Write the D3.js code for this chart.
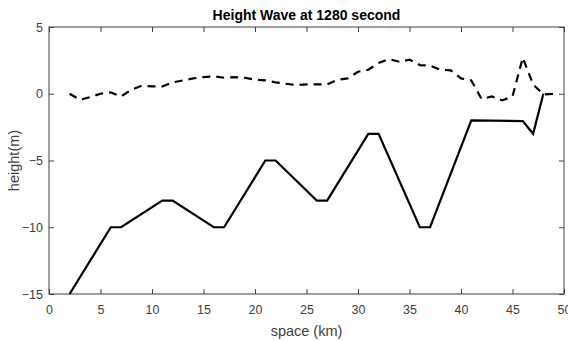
<!DOCTYPE html>
<html>
<head>
<meta charset="utf-8">
<script src="https://cdn.jsdelivr.net/npm/d3@7"></script>
<style>
  body { margin: 0; background: #fff; }
  svg { display: block; font-family: "Liberation Sans", Arial, sans-serif; }
  .tick text { fill: #404040; font-size: 12.5px; font-family: "Liberation Sans Narrow", "Arial Narrow", "Liberation Sans", sans-serif; }
  .tick line { stroke: #404040; }
</style>
</head>
<body>
<div id="chart"></div>
<script>
// bottom profile (solid) vertices
const bedKm = [2, 6, 7, 11, 12, 16, 17, 21, 22, 26, 27, 31, 32, 36, 37, 41, 46, 47, 48];
const bedH  = [-15, -10, -10, -8, -8, -10, -10, -5, -5, -8, -8, -3, -3, -10, -10, -2, -2.05, -3, 0];

// wave height (dashed), one per km
const waveKm = d3.range(2, 50);
const waveH = [0, -0.45, -0.25, 0, 0.1, -0.2, 0.3, 0.6, 0.55, 0.55,
               0.85, 1.0, 1.15, 1.25, 1.3, 1.2, 1.25, 1.2, 1.05, 1.0,
               0.85, 0.75, 0.65, 0.7, 0.7, 0.7, 1.05, 1.15, 1.65, 1.8,
               2.3, 2.6, 2.4, 2.55, 2.15, 2.1, 1.8, 1.75, 1.15, 1.0,
               -0.4, -0.2, -0.5, -0.2, 2.7, 0.7, -0.05, 0];

const xTicks = d3.range(0, 51, 5);
const yTicks = [-15, -10, -5, 0, 5];

const width = 568, height = 341;
const margin = {top: 27, right: 4, bottom: 47, left: 49};
const chartWidth = width - margin.left - margin.right,
      chartHeight = height - margin.top - margin.bottom;

const svg = d3.select('#chart').append('svg')
  .attr('width', width)
  .attr('height', height);

const x = d3.scaleLinear().domain([0, 50]).range([0, chartWidth]);
const y = d3.scaleLinear().domain([-15, 5]).range([chartHeight, 0]);

const chart = svg.append('g')
  .attr('transform', `translate(${margin.left}, ${margin.top})`);

// axes, matlab style: ticks pointing inward on all four sides
chart.append('g')
  .attr('transform', `translate(0, ${chartHeight})`)
  .call(d3.axisBottom(x).tickValues(xTicks).tickSize(-5).tickPadding(11))
  .call(g => g.select('.domain').remove());

chart.append('g')
  .call(d3.axisTop(x).tickValues(xTicks).tickSize(-5).tickFormat(''))
  .call(g => g.select('.domain').remove());

chart.append('g')
  .call(d3.axisLeft(y).tickValues(yTicks).tickSize(-5).tickPadding(6))
  .call(g => g.select('.domain').remove());

chart.append('g')
  .attr('transform', `translate(${chartWidth}, 0)`)
  .call(d3.axisRight(y).tickValues(yTicks).tickSize(-5).tickFormat(''))
  .call(g => g.select('.domain').remove());

chart.append('rect')
  .attr('width', chartWidth)
  .attr('height', chartHeight)
  .attr('fill', 'none')
  .attr('stroke', '#404040')
  .attr('stroke-width', 1);

const line = d3.line()
  .x(d => x(d[0]))
  .y(d => y(d[1]));

chart.append('path')
  .datum(waveKm.map((k, i) => [k, waveH[i]]))
  .attr('d', line)
  .attr('fill', 'none')
  .attr('stroke', '#000')
  .attr('stroke-width', 2.2)
  .attr('stroke-dasharray', '8,6');

chart.append('path')
  .datum(bedKm.map((k, i) => [k, bedH[i]]))
  .attr('d', line)
  .attr('fill', 'none')
  .attr('stroke', '#000')
  .attr('stroke-width', 2.2);

// labels
svg.append('text')
  .attr('x', margin.left + chartWidth / 2)
  .attr('y', 20)
  .attr('text-anchor', 'middle')
  .attr('font-size', 14)
  .attr('font-weight', 'bold')
  .attr('fill', '#000')
  .text('Height Wave at 1280 second');

svg.append('text')
  .attr('x', margin.left + chartWidth / 2)
  .attr('y', 336)
  .attr('text-anchor', 'middle')
  .attr('font-size', 14.5)
  .attr('fill', '#404040')
  .text('space (km)');

svg.append('text')
  .attr('transform', `translate(19, ${margin.top + chartHeight / 2}) rotate(-90)`)
  .attr('text-anchor', 'middle')
  .attr('font-size', 14.5)
  .attr('fill', '#404040')
  .text('height(m)');
</script>
</body>
</html>
